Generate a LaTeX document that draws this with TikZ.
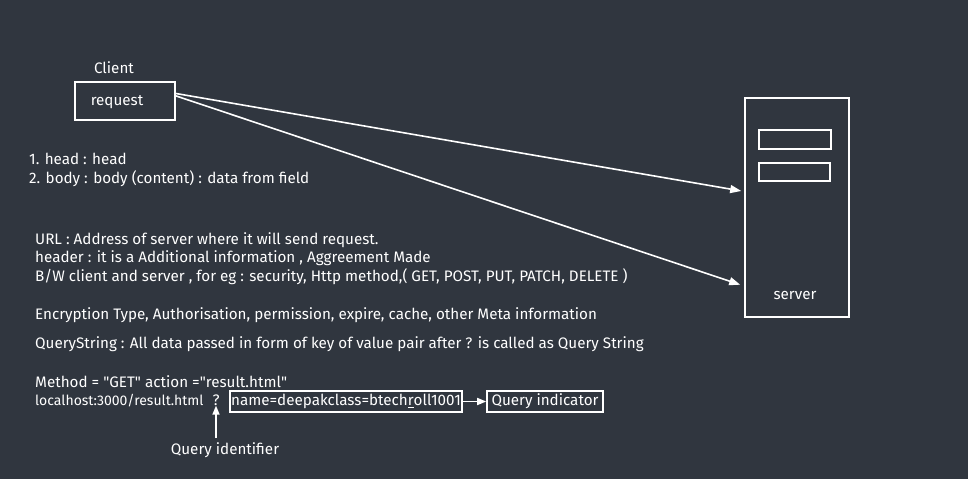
\documentclass[tikz,border=0pt]{standalone}
\usepackage{fontspec}
\setmainfont{Fira Sans}
\usetikzlibrary{arrows.meta,calc}
\definecolor{bg}{RGB}{48,54,63}
\newcommand{\qq}{\textquotedbl}
\tikzset{
  box/.style={draw=white,line width=1.6pt,inner sep=0pt},
  txt/.style={text=white,font=\fontsize{15.2}{18}\selectfont,inner sep=0pt},
  lft/.style={txt,anchor=west,align=left},
  arr/.style={draw=white,line width=1.6pt,-{Triangle[length=11pt,width=8pt]}},
}
\begin{document}
\begin{tikzpicture}[x=1pt,y=-1pt]
\fill[bg] (0,0) rectangle (968,479);
\useasboundingbox (0,0) rectangle (968,479);
% client
\node[txt] (client) at (114,68) {Client};
\node[box,minimum width=100pt,minimum height=38pt] (req) at (125,101) {};
\node[txt] (reqt) at (117,102) {request};
% server
\node[box,minimum width=104pt,minimum height=219pt] (server) at (797,207.5) {};
\node[box,minimum width=72pt,minimum height=19pt] (s1) at (795,139.5) {};
\node[box,minimum width=71pt,minimum height=18pt] (s2) at (794.5,172) {};
\node[txt] (st) at (795,295) {server};
% arrows
\coordinate (a1s) at ($(req.north east)!0.31!(req.south east)$);
\coordinate (a2s) at ($(req.north east)!0.37!(req.south east)$);
\coordinate (a1e) at ($(server.north west)!0.425!(server.south west)+(-3,0)$);
\coordinate (a2e) at ($(server.north west)!0.85!(server.south west)+(-4,0)$);
\draw[arr] (a1s) -- (a1e);
\draw[arr] (a2s) -- (a2e);
% notes
\node[lft] (n1) at (29,159) {1. head : head};
\node[lft] (n2) at (29,179) {2. body : body (content) : data from field};
\node[lft] (u1) at (35,240) {URL : Address of server where it will send request.};
\node[lft] (u2) at (35,258) {header : it is a Additional information , Aggreement Made};
\node[lft] (u3) at (35,277) {B/W client and server , for eg : security, Http method,( GET, POST, PUT, PATCH, DELETE )};
\node[lft] (u4) at (35,315) {Encryption Type, Authorisation, permission, expire, cache, other Meta information};
\node[lft] (u5) at (35,344) {QueryString : All data passed in form of key of value pair after ? is called as Query String};
\node[lft] (m1) at (35,382) {Method = \qq GET\qq{} action =\qq result.html\qq};
\node[lft,font=\fontsize{14}{17}\selectfont] (m2) at (35,401) {localhost:3000/result.html};
\node[txt] (q) at (216,400) {?};
\node[box,minimum width=232pt,minimum height=21pt] (qs) at (346,401.5) {};
\node[txt] (qst) at (346,401.5) {name=deepakclass=btech\underline{r}oll1001};
\node[box,minimum width=116pt,minimum height=21pt] (qi) at (545,401.5) {};
\node[txt] (qit) at (545,401.5) {Query indicator};
\draw[arr,-{Triangle[length=9pt,width=7pt]}] (qs.east) -- (qi.west);
\node[txt] (qid) at (225,450) {Query identifier};
\draw[arr,-{Triangle[length=9pt,width=7pt]}] (216,438) -- (q.south);
\end{tikzpicture}
\end{document}
